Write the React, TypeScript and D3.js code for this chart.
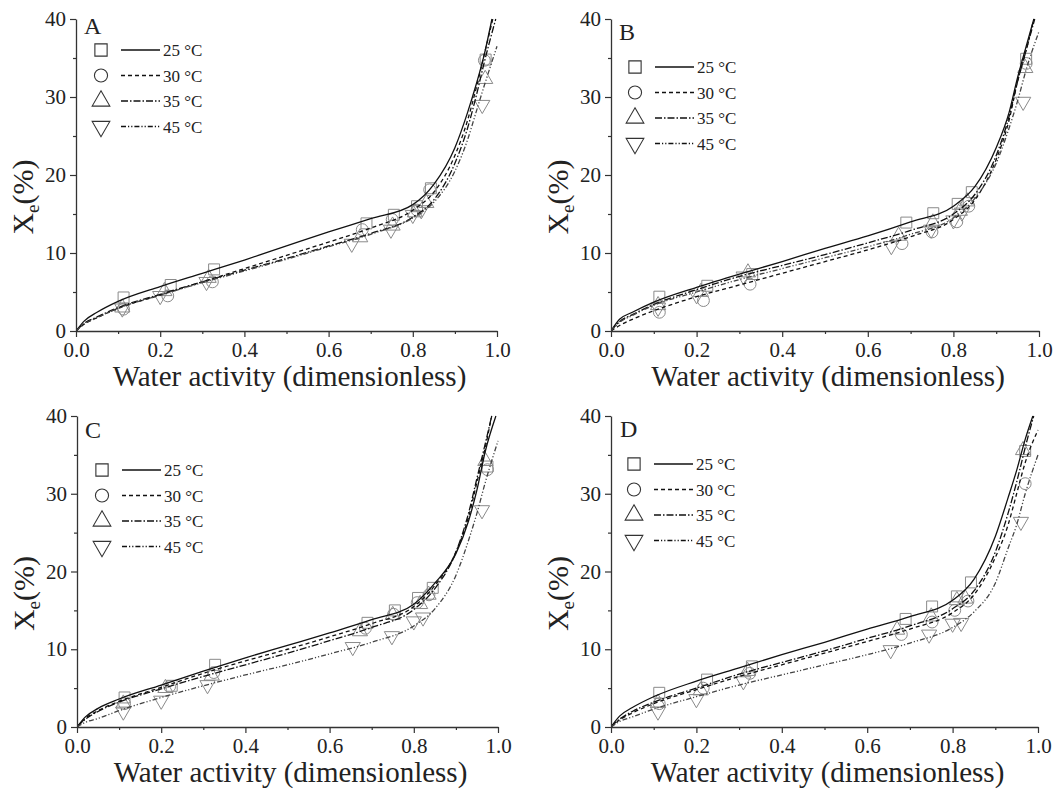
import { useEffect, useRef } from 'react';
import * as d3 from 'd3';

type Pt = [number, number];

// temperatures and line styles
const temps = ['25', '30', '35', '45'];
const dashes = ['none', '4,3', '7,2,1.5,2', '5,2,1.2,2,1.2,2'];
const symbols = [d3.symbolSquare, d3.symbolCircle, d3.symbolTriangle, 'down'];

// x / y ticks
const xMajor = [0, 0.2, 0.4, 0.6, 0.8, 1.0];
const xMinor = [0.1, 0.3, 0.5, 0.7, 0.9];
const yMajor = [0, 10, 20, 30, 40];
const yMinor = [5, 15, 25, 35];

// measured points, panel A
const ptsA25: Pt[] = [[0.113, 4.3], [0.225, 5.9], [0.328, 7.9], [0.69, 13.8], [0.755, 14.9], [0.81, 16.0], [0.843, 18.3], [0.973, 34.8]];
const ptsA30: Pt[] = [[0.113, 2.8], [0.218, 4.5], [0.324, 6.3], [0.68, 13.0], [0.751, 14.3], [0.81, 15.5], [0.84, 18.1], [0.97, 34.7]];
const ptsA35: Pt[] = [[0.11, 3.0], [0.21, 5.1], [0.315, 6.8], [0.675, 12.0], [0.752, 13.5], [0.805, 15.2], [0.832, 16.4], [0.972, 32.3]];
const ptsA45: Pt[] = [[0.11, 2.9], [0.2, 4.5], [0.31, 6.3], [0.655, 11.2], [0.748, 13.0], [0.8, 14.9], [0.82, 15.5], [0.965, 29.0]];

// fitted curves, panel A
const fitA25: Pt[] = [[0, 0], [0.02, 1.3], [0.05, 2.4], [0.1, 3.8], [0.2, 5.7], [0.3, 7.4], [0.4, 9.1], [0.5, 10.9], [0.6, 12.7], [0.7, 14.4], [0.8, 16.2], [0.85, 18.8], [0.9, 23.5], [0.93, 28], [0.95, 31.5], [0.97, 35.5], [0.988, 40]];
const fitA30: Pt[] = [[0, 0], [0.02, 0.9], [0.05, 1.7], [0.1, 2.9], [0.2, 4.6], [0.3, 6.3], [0.4, 8.0], [0.5, 9.7], [0.6, 11.4], [0.7, 13.2], [0.8, 15.5], [0.85, 17.8], [0.9, 22.5], [0.93, 27], [0.95, 31], [0.97, 35.5], [0.99, 40]];
const fitA35: Pt[] = [[0, 0], [0.02, 1.0], [0.05, 1.8], [0.1, 3.0], [0.2, 4.7], [0.3, 6.3], [0.4, 7.8], [0.5, 9.3], [0.6, 10.9], [0.7, 12.5], [0.8, 14.6], [0.85, 16.8], [0.9, 21.5], [0.93, 26], [0.95, 30], [0.97, 34.5], [0.997, 40]];
const fitA45: Pt[] = [[0, 0], [0.02, 0.9], [0.05, 1.7], [0.1, 2.9], [0.2, 4.6], [0.3, 6.2], [0.4, 7.7], [0.5, 9.2], [0.6, 10.8], [0.7, 12.4], [0.8, 14.5], [0.85, 16.5], [0.9, 20.5], [0.93, 24.5], [0.95, 28], [0.97, 31.5], [1.0, 36.5]];

// panel B
const ptsB25: Pt[] = [[0.113, 4.4], [0.225, 5.8], [0.33, 7.3], [0.69, 13.9], [0.753, 15.1], [0.81, 16.3], [0.843, 17.8], [0.97, 34.9]];
const ptsB30: Pt[] = [[0.113, 2.4], [0.216, 3.9], [0.325, 6.0], [0.68, 11.2], [0.75, 12.7], [0.808, 14.0], [0.836, 16.0], [0.97, 34.3]];
const ptsB35: Pt[] = [[0.11, 3.3], [0.21, 5.0], [0.32, 7.5], [0.672, 12.2], [0.752, 13.9], [0.815, 15.4], [0.832, 16.6], [0.968, 33.7]];
const ptsB45: Pt[] = [[0.11, 3.0], [0.2, 4.6], [0.31, 7.0], [0.655, 10.9], [0.748, 13.0], [0.8, 14.2], [0.82, 15.2], [0.963, 29.4]];

const fitB25: Pt[] = [[0, 0], [0.02, 1.5], [0.05, 2.4], [0.1, 3.7], [0.2, 5.6], [0.3, 7.3], [0.4, 8.9], [0.5, 10.6], [0.6, 12.2], [0.7, 14.0], [0.8, 16.0], [0.85, 18.5], [0.9, 23.5], [0.93, 28], [0.95, 32.5], [0.97, 36.5], [0.988, 40]];
const fitB30: Pt[] = [[0, 0], [0.02, 0.7], [0.05, 1.5], [0.1, 2.6], [0.2, 4.4], [0.3, 5.9], [0.4, 7.4], [0.5, 8.9], [0.6, 10.4], [0.7, 12.1], [0.8, 14.3], [0.85, 16.8], [0.9, 22], [0.93, 27], [0.95, 32], [0.97, 36], [0.988, 40]];
const fitB35: Pt[] = [[0, 0], [0.02, 1.2], [0.05, 2.1], [0.1, 3.4], [0.2, 5.3], [0.3, 7.0], [0.4, 8.4], [0.5, 9.8], [0.6, 11.3], [0.7, 12.9], [0.8, 15.0], [0.85, 17.5], [0.9, 22.5], [0.93, 27.5], [0.95, 32], [0.97, 36], [0.99, 40]];
const fitB45: Pt[] = [[0, 0], [0.02, 1.1], [0.05, 2.0], [0.1, 3.3], [0.2, 5.0], [0.3, 6.6], [0.4, 8.0], [0.5, 9.4], [0.6, 10.8], [0.7, 12.4], [0.8, 14.5], [0.85, 17], [0.9, 21.5], [0.93, 26], [0.95, 29.5], [0.97, 33.5], [1.0, 38.4]];

// panel C
const ptsC25: Pt[] = [[0.113, 3.8], [0.225, 5.3], [0.328, 8.0], [0.69, 13.4], [0.755, 15.0], [0.81, 16.6], [0.845, 17.9], [0.975, 33.5]];
const ptsC30: Pt[] = [[0.113, 3.0], [0.22, 5.2], [0.325, 7.0], [0.685, 12.7], [0.752, 14.5], [0.808, 16.0], [0.836, 17.0], [0.975, 33.1]];
const ptsC35: Pt[] = [[0.11, 3.0], [0.21, 5.0], [0.32, 6.6], [0.672, 12.3], [0.75, 14.4], [0.815, 15.8], [0.835, 17.0], [0.97, 34.2]];
const ptsC45: Pt[] = [[0.11, 2.0], [0.2, 3.4], [0.31, 5.4], [0.655, 10.3], [0.748, 11.7], [0.8, 13.6], [0.822, 14.1], [0.962, 27.9]];

const fitC25: Pt[] = [[0, 0], [0.02, 1.3], [0.05, 2.4], [0.1, 3.6], [0.2, 5.4], [0.3, 7.2], [0.4, 8.9], [0.5, 10.5], [0.6, 12.1], [0.7, 13.8], [0.8, 15.8], [0.85, 18.5], [0.9, 22.3], [0.93, 26.5], [0.95, 30.5], [0.97, 35.5], [0.995, 40]];
const fitC30: Pt[] = [[0, 0], [0.02, 1.1], [0.05, 2.1], [0.1, 3.3], [0.2, 5.1], [0.3, 6.9], [0.4, 8.5], [0.5, 10.0], [0.6, 11.6], [0.7, 13.3], [0.8, 15.5], [0.85, 18.2], [0.9, 22.5], [0.93, 27], [0.95, 31.5], [0.97, 36], [0.985, 40]];
const fitC35: Pt[] = [[0, 0], [0.02, 1.0], [0.05, 2.0], [0.1, 3.2], [0.2, 4.9], [0.3, 6.5], [0.4, 8.0], [0.5, 9.5], [0.6, 11.1], [0.7, 12.8], [0.8, 15.1], [0.85, 17.8], [0.9, 22.5], [0.93, 27.5], [0.95, 32], [0.97, 36.5], [0.985, 40]];
const fitC45: Pt[] = [[0, 0], [0.02, 0.6], [0.05, 1.1], [0.1, 2.1], [0.2, 3.8], [0.3, 5.3], [0.4, 6.7], [0.5, 8.0], [0.6, 9.4], [0.7, 10.9], [0.8, 13.0], [0.85, 15.2], [0.9, 19.5], [0.93, 24], [0.95, 27.5], [0.97, 31.5], [1.0, 36.8]];

// panel D
const ptsD25: Pt[] = [[0.113, 4.4], [0.225, 6.1], [0.33, 7.8], [0.69, 13.9], [0.752, 15.5], [0.81, 16.8], [0.843, 18.6], [0.97, 35.5]];
const ptsD30: Pt[] = [[0.113, 3.0], [0.216, 5.0], [0.325, 6.9], [0.68, 11.9], [0.752, 13.5], [0.805, 15.0], [0.836, 16.2], [0.97, 31.3]];
const ptsD35: Pt[] = [[0.11, 3.1], [0.21, 4.7], [0.32, 7.2], [0.67, 12.5], [0.75, 14.2], [0.81, 16.3], [0.83, 16.5], [0.965, 35.6]];
const ptsD45: Pt[] = [[0.11, 2.0], [0.2, 3.6], [0.31, 5.9], [0.655, 9.9], [0.745, 11.9], [0.8, 13.3], [0.82, 13.4], [0.96, 26.4]];

const fitD25: Pt[] = [[0, 0], [0.02, 1.4], [0.05, 2.5], [0.1, 3.9], [0.2, 5.9], [0.3, 7.6], [0.4, 9.3], [0.5, 10.9], [0.6, 12.6], [0.7, 14.2], [0.8, 16.3], [0.85, 19], [0.9, 24.5], [0.93, 29.5], [0.95, 33], [0.97, 37], [0.988, 40]];
const fitD30: Pt[] = [[0, 0], [0.02, 0.9], [0.05, 1.8], [0.1, 3.0], [0.2, 4.8], [0.3, 6.5], [0.4, 8.0], [0.5, 9.5], [0.6, 11.0], [0.7, 12.6], [0.8, 14.7], [0.85, 17.0], [0.9, 21.8], [0.93, 26], [0.95, 30], [0.97, 34], [1.0, 38.2]];
const fitD35: Pt[] = [[0, 0], [0.02, 1.0], [0.05, 2.0], [0.1, 3.2], [0.2, 5.0], [0.3, 6.8], [0.4, 8.3], [0.5, 9.8], [0.6, 11.4], [0.7, 13.0], [0.8, 15.2], [0.85, 17.5], [0.9, 22.5], [0.93, 27.5], [0.95, 31.5], [0.975, 37], [0.99, 40]];
const fitD45: Pt[] = [[0, 0], [0.02, 0.7], [0.05, 1.3], [0.1, 2.3], [0.2, 3.9], [0.3, 5.4], [0.4, 6.7], [0.5, 8.0], [0.6, 9.3], [0.7, 10.8], [0.8, 12.8], [0.85, 14.8], [0.9, 18.5], [0.93, 23], [0.95, 26], [0.97, 30], [1.0, 35]];

// panel layout (pixels)
const panels = [
    { id: 'A', left: 76, right: 497, top: 19, bottom: 331, lx: 84, ly: 34, gx: 101, gy: 50, pts: [ptsA25, ptsA30, ptsA35, ptsA45], fits: [fitA25, fitA30, fitA35, fitA45] },
    { id: 'B', left: 611, right: 1039, top: 19, bottom: 331, lx: 619, ly: 40, gx: 635, gy: 67, pts: [ptsB25, ptsB30, ptsB35, ptsB45], fits: [fitB25, fitB30, fitB35, fitB45] },
    { id: 'C', left: 77, right: 498, top: 416, bottom: 727, lx: 85, ly: 438, gx: 102, gy: 470, pts: [ptsC25, ptsC30, ptsC35, ptsC45], fits: [fitC25, fitC30, fitC35, fitC45] },
    { id: 'D', left: 611, right: 1038, top: 416, bottom: 727, lx: 620, ly: 437, gx: 634, gy: 464, pts: [ptsD25, ptsD30, ptsD35, ptsD45], fits: [fitD25, fitD30, fitD35, fitD45] },
];

const FONT = "'Liberation Serif', 'Times New Roman', serif";

function symbolPath(i: number, size: number) {
    const s = symbols[i];
    if (s === 'down') {
        return d3.symbol(d3.symbolTriangle, size)();
    }
    return d3.symbol(s as d3.SymbolType, size)();
}

export default function App() {
    const ref = useRef<SVGSVGElement>(null);

    useEffect(() => {
        document.body.style.margin = '0';
        const svg = d3.select(ref.current);
        svg.selectAll('*').remove();

        panels.forEach((p) => {
            const g = svg.append('g');

            const x = d3.scaleLinear().domain([0, 1]).range([p.left, p.right]);
            const y = d3.scaleLinear().domain([0, 40]).range([p.bottom, p.top]);

            // clip
            const clipId = 'clip' + p.id;
            g.append('clipPath').attr('id', clipId)
                .append('rect')
                .attr('x', p.left).attr('y', p.top - 1)
                .attr('width', p.right - p.left + 2).attr('height', p.bottom - p.top + 1);

            // markers (gray, open)
            const markerSizes = [120, 110, 100, 100];
            p.pts.forEach((pts, i) => {
                g.append('g').selectAll('path')
                    .data(pts).enter()
                    .append('path')
                    .attr('d', symbolPath(i, markerSizes[i]))
                    .attr('transform', (d) => 'translate(' + x(d[0]) + ',' + y(d[1]) + ')' + (symbols[i] === 'down' ? ' rotate(180)' : ''))
                    .attr('fill', 'none')
                    .attr('stroke', '#8a8a8a')
                    .attr('stroke-width', 1);
            });

            // fitted curves
            const line = d3.line<Pt>()
                .x((d) => x(d[0]))
                .y((d) => y(d[1]))
                .curve(d3.curveMonotoneX);

            p.fits.forEach((fit, i) => {
                g.append('path')
                    .attr('d', line(fit))
                    .attr('clip-path', 'url(#' + clipId + ')')
                    .attr('fill', 'none')
                    .attr('stroke', i === 3 ? '#444' : '#111')
                    .attr('stroke-width', 1.3)
                    .attr('stroke-dasharray', dashes[i]);
            });

            // x axis
            const xAxis = g.append('g')
                .attr('transform', 'translate(0,' + p.bottom + ')')
                .call(d3.axisBottom(x).tickValues(xMajor).tickFormat(d3.format('.1f')).tickSize(6).tickSizeOuter(0).tickPadding(5));
            g.append('g')
                .attr('transform', 'translate(0,' + p.bottom + ')')
                .call(d3.axisBottom(x).tickValues(xMinor).tickFormat(() => '').tickSize(3).tickSizeOuter(0))
                .select('.domain').remove();

            // y axis
            const yAxis = g.append('g')
                .attr('transform', 'translate(' + p.left + ',0)')
                .call(d3.axisLeft(y).tickValues(yMajor).tickFormat(d3.format('d')).tickSize(6).tickSizeOuter(0).tickPadding(4));
            g.append('g')
                .attr('transform', 'translate(' + p.left + ',0)')
                .call(d3.axisLeft(y).tickValues(yMinor).tickFormat(() => '').tickSize(3).tickSizeOuter(0))
                .select('.domain').remove();

            [xAxis, yAxis].forEach((a) => {
                a.select('.domain').attr('stroke', '#333').attr('stroke-width', 1.3);
                a.selectAll('text').attr('font-family', FONT).attr('font-size', 21).attr('fill', '#222');
            });
            g.selectAll('.tick line').attr('stroke', '#333').attr('stroke-width', 1.2);

            // axis titles
            g.append('text')
                .attr('x', (p.left + p.right) / 2 + 3)
                .attr('y', p.bottom + 55)
                .attr('text-anchor', 'middle')
                .attr('font-family', FONT)
                .attr('font-size', 29)
                .attr('fill', '#222')
                .text('Water activity (dimensionless)');

            const yt = g.append('text')
                .attr('transform', 'translate(' + (p.left - 43) + ',' + ((p.top + p.bottom) / 2 + 22) + ') rotate(-90)')
                .attr('text-anchor', 'middle')
                .attr('font-family', FONT)
                .attr('font-size', 30)
                .attr('fill', '#222');
            yt.append('tspan').text('X');
            yt.append('tspan').attr('font-size', 19).attr('dy', 6).text('e');
            yt.append('tspan').attr('dy', -6).text('(%)');

            // panel letter
            g.append('text')
                .attr('x', p.lx)
                .attr('y', p.ly)
                .attr('font-family', FONT)
                .attr('font-size', 24)
                .attr('fill', '#222')
                .text(p.id);

            // legend
            temps.forEach((t, i) => {
                const ry = p.gy + i * 25.5;
                g.append('path')
                    .attr('d', symbolPath(i, i === 0 ? 150 : 135))
                    .attr('transform', 'translate(' + p.gx + ',' + ry + ')' + (symbols[i] === 'down' ? ' rotate(180)' : ''))
                    .attr('fill', 'none')
                    .attr('stroke', '#333')
                    .attr('stroke-width', 1.1);
                g.append('line')
                    .attr('x1', p.gx + 20).attr('x2', p.gx + 59)
                    .attr('y1', ry).attr('y2', ry)
                    .attr('stroke', '#111')
                    .attr('stroke-width', 1.3)
                    .attr('stroke-dasharray', dashes[i]);
                g.append('text')
                    .attr('x', p.gx + 62)
                    .attr('y', ry + 6)
                    .attr('font-family', FONT)
                    .attr('font-size', 17)
                    .attr('fill', '#222')
                    .text(t + ' °C');
            });
        });
    }, []);

    return (
        <svg ref={ref} width={1054} height={797} style={{ display: 'block', background: '#fff' }} />
    );
}
